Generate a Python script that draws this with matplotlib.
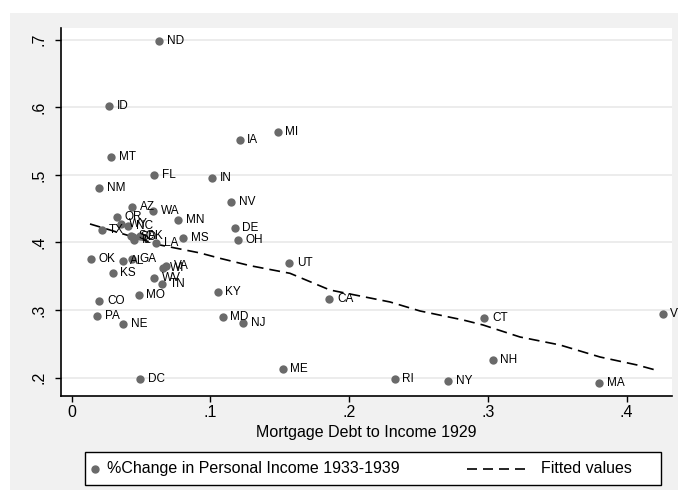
import matplotlib.pyplot as plt
from matplotlib.patches import Rectangle
from matplotlib.lines import Line2D

plt.rcParams['font.family'] = ['Liberation Sans', 'DejaVu Sans']

states = ["ND", "ID", "MT", "NM", "FL", "IN", "IA", "MI", "AZ", "WA",
          "MN", "OR", "WY", "NC", "TX", "NV", "DE", "OH", "SC", "SD",
          "AK", "IL", "LA", "MS", "OK", "AL", "GA", "VA", "WI", "KS",
          "WV", "TN", "UT", "KY", "CA", "CO", "MO", "PA", "NE", "MD",
          "NJ", "CT", "VT", "NH", "ME", "RI", "NY", "MA", "DC"]
debt = [0.0632, 0.0269, 0.0283, 0.0197, 0.0593, 0.1014, 0.1210, 0.1485, 0.0437, 0.0586,
        0.0766, 0.0326, 0.0356, 0.0406, 0.0216, 0.1149, 0.1175, 0.1201, 0.0428, 0.0442,
        0.0493, 0.0449, 0.0608, 0.0805, 0.0137, 0.0368, 0.0435, 0.0680, 0.0656, 0.0296,
        0.0593, 0.0651, 0.1570, 0.1053, 0.1857, 0.0199, 0.0483, 0.0185, 0.0370, 0.1089,
        0.1237, 0.2975, 0.4261, 0.3035, 0.1521, 0.2329, 0.2713, 0.3804, 0.0492]
pct_change = [0.698, 0.602, 0.526, 0.480, 0.500, 0.495, 0.551, 0.564, 0.452, 0.446,
              0.433, 0.437, 0.427, 0.424, 0.4185, 0.4595, 0.422, 0.403, 0.409, 0.4074,
              0.4096, 0.4037, 0.399, 0.406, 0.3756, 0.373, 0.3756, 0.3657, 0.3627, 0.3553,
              0.348, 0.338, 0.370, 0.327, 0.317, 0.314, 0.3223, 0.2917, 0.2794, 0.2893,
              0.2814, 0.289, 0.294, 0.226, 0.2133, 0.1976, 0.195, 0.1926, 0.1976]

# fitted values (connected, sorted by x)
fit_x = [0.0132, 0.0420, 0.0637, 0.0925, 0.1069, 0.1286, 0.1574, 0.1862, 0.2295,
         0.2511, 0.2821, 0.2965, 0.3232, 0.3520, 0.3809, 0.4076, 0.4235]
fit_y = [0.4274, 0.4096, 0.3963, 0.3845, 0.3766, 0.3657, 0.3544, 0.3297, 0.3120,
         0.2987, 0.2854, 0.2780, 0.2602, 0.2484, 0.2306, 0.2188, 0.2099]

xticks = [0, 0.1, 0.2, 0.3, 0.4]
xtick_labels = ["0", ".1", ".2", ".3", ".4"]
yticks = [0.2, 0.3, 0.4, 0.5, 0.6, 0.7]
ytick_labels = [".2", ".3", ".4", ".5", ".6", ".7"]

W, H = 678, 497
fig = plt.figure(figsize=(W / 100, H / 100), dpi=100)
fig.patch.set_facecolor('white')


def fx(px):
    return px / W


def fy(py):
    return 1 - py / H


# gray graph region
fig.patches.append(Rectangle((fx(10), fy(490)), 668 / W, 477 / H,
                             transform=fig.transFigure, facecolor='#f1f1f1',
                             edgecolor='none', zorder=-1))

ax = fig.add_axes([fx(61), fy(396), 611 / W, 368 / H])
ax.set_facecolor('white')

dot_color = '#6a6a6a'
ax.scatter(debt, pct_change, s=36, color=dot_color, zorder=3, linewidths=0)
for st, x, y in zip(states, debt, pct_change):
    ax.annotate(st, (x, y), xytext=(5.5, 0), textcoords='offset points',
                va='center', ha='left', fontsize=8.5, color='black',
                annotation_clip=False, zorder=4)

line, = ax.plot(fit_x, fit_y, color='black', linewidth=1.2, zorder=2)
line.set_dashes([6.5, 3.6])

ax.set_xlim(-0.0077, 0.4328)
ax.set_ylim(0.1729, 0.7173)
ax.set_xticks(xticks)
ax.set_xticklabels(xtick_labels)
ax.set_yticks(yticks)
ax.set_yticklabels(ytick_labels, rotation=90, va='center')
ax.tick_params(axis='both', labelsize=11.5, length=4.3, width=1, color='black')
ax.tick_params(axis='y', pad=6)
ax.tick_params(axis='x', pad=2)
ax.grid(axis='y', color='#eaeaea', linewidth=1.3, zorder=0)
ax.set_axisbelow(True)

for side in ['top', 'right']:
    ax.spines[side].set_visible(False)
ax.spines['left'].set_linewidth(1.2)
ax.spines['bottom'].set_linewidth(1.2)

ax.set_xlabel('Mortgage Debt to Income 1929', fontsize=11.5, labelpad=4)

# legend box (drawn by hand to get Stata's layout)
fig.patches.append(Rectangle((fx(85), fy(485)), 576 / W, 33 / H,
                             transform=fig.transFigure, facecolor='white',
                             edgecolor='black', linewidth=1.0, zorder=5))
ly = fy(468.5)
fig.add_artist(Line2D([fx(95)], [ly], marker='o', markersize=5, color=dot_color,
                      linestyle='none', zorder=6))
fig.text(fx(107), ly, '%Change in Personal Income 1933-1939', fontsize=11.5,
         va='center', ha='left', zorder=6)
leg_line = Line2D([fx(467), fx(530)], [ly, ly], color='black', linewidth=1.2, zorder=6)
leg_line.set_dashes([6.0, 3.6])
fig.add_artist(leg_line)
fig.text(fx(541), ly, 'Fitted values', fontsize=11.5, va='center', ha='left', zorder=6)

fig.savefig('out.png', dpi=100)
